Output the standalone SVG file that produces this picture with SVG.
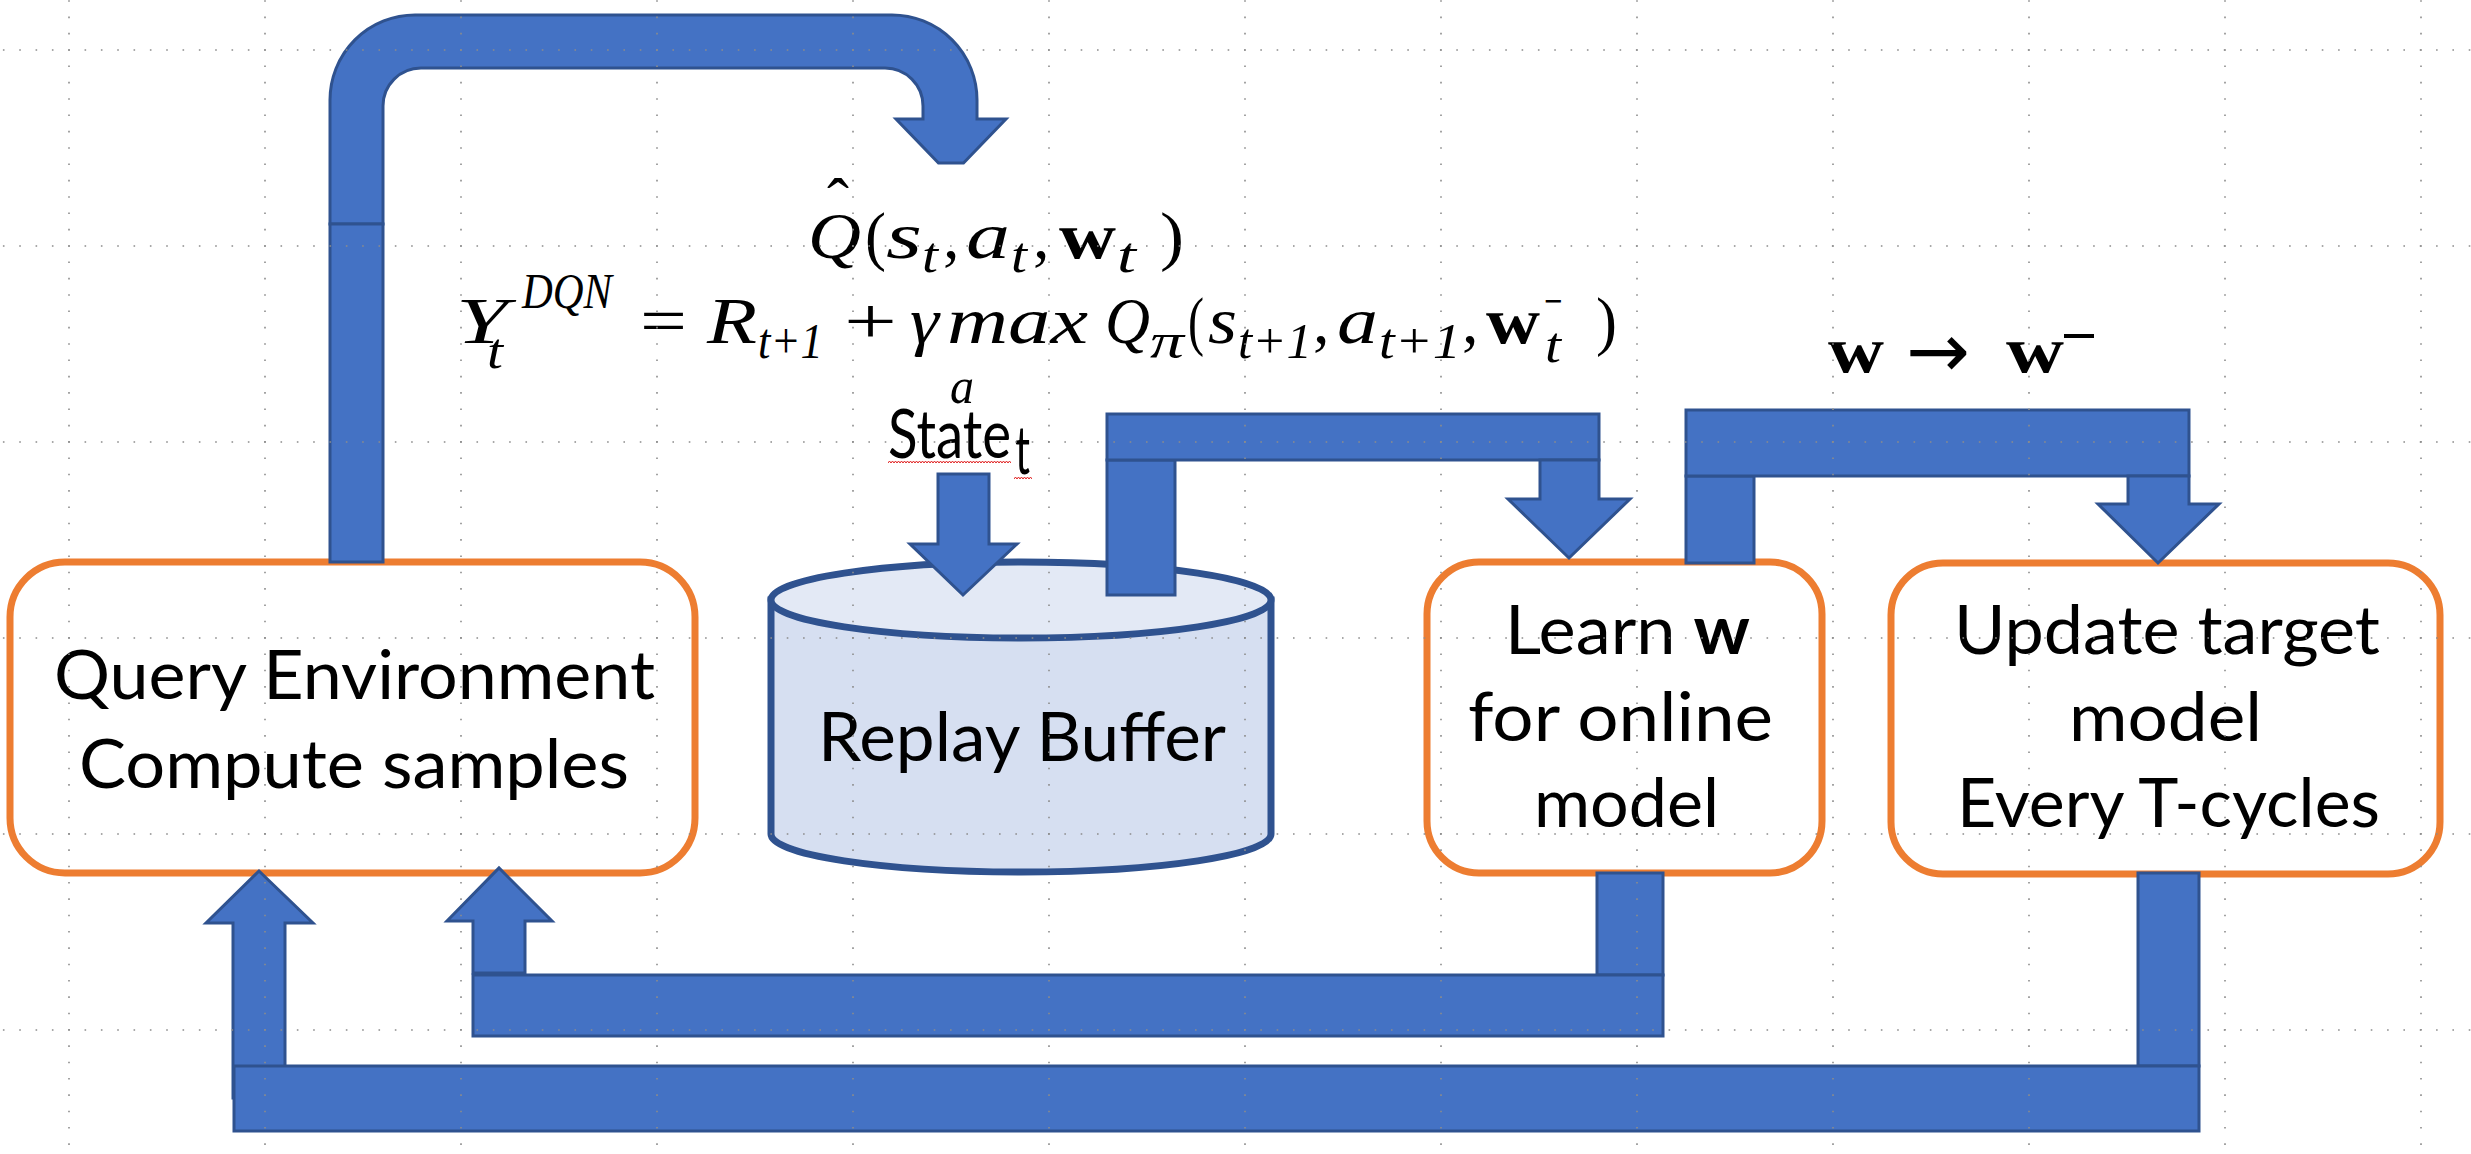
<svg xmlns="http://www.w3.org/2000/svg" width="2471" height="1154" viewBox="0 0 2471 1154">
<defs>
<style>
.blue{fill:#4472c4;stroke:#2f528f;stroke-width:3;stroke-linejoin:miter}
.box{fill:#ffffff;stroke:#ed7d31;stroke-width:7}
.cyl{stroke:#2f528f;stroke-width:7}
.lbl{font-family:Lato,"Open Sans",sans-serif;font-size:68px;fill:#000}
.m{font-family:"Liberation Serif","DejaVu Serif",serif;font-style:italic;font-size:66px;fill:#000}
.ms{font-family:"Liberation Serif","DejaVu Serif",serif;font-style:italic;font-size:50px;fill:#000}
.mu{font-family:"Liberation Serif","DejaVu Serif",serif;font-size:66px;fill:#000}
.mb{font-family:"Liberation Serif","DejaVu Serif",serif;font-weight:bold;font-size:66px;fill:#000}
.gv{fill:none;stroke:#8c8c8c;stroke-width:1.6;stroke-dasharray:1.6 14.73}
</style>
<pattern id="squig" width="6" height="4" patternUnits="userSpaceOnUse">
<polyline points="0,3 1.5,1 3,3 4.5,1 6,3" fill="none" stroke="#e02020" stroke-width="1"/>
</pattern>
</defs>
<rect x="0" y="0" width="2471" height="1154" fill="#ffffff"/>

<g id="node-query">
<rect class="box" x="10" y="562" width="685" height="311" rx="55" ry="55"/>
<text class="lbl" x="54" y="699" textLength="601" lengthAdjust="spacingAndGlyphs">Query Environment</text>
<text class="lbl" x="79" y="788" textLength="550" lengthAdjust="spacingAndGlyphs">Compute samples</text>
</g>

<g id="node-buffer">
<path class="cyl" fill="#d6dff1" d="M771,600 V834 A250,38 0 0 0 1271,834 V600 Z"/>
<ellipse class="cyl" fill="#e3e9f5" cx="1021" cy="600" rx="250" ry="38"/>
<text class="lbl" x="818" y="761" textLength="408" lengthAdjust="spacingAndGlyphs">Replay Buffer</text>
</g>

<g id="node-learn">
<rect class="box" x="1427" y="562" width="395" height="311" rx="52" ry="52"/>
<text class="lbl" x="1505" y="654" textLength="245" lengthAdjust="spacingAndGlyphs">Learn <tspan font-weight="bold">w</tspan></text>
<text class="lbl" x="1468" y="741" textLength="305" lengthAdjust="spacingAndGlyphs">for online</text>
<text class="lbl" x="1534" y="827" textLength="185" lengthAdjust="spacingAndGlyphs">model</text>
</g>

<g id="node-update">
<rect class="box" x="1891" y="563" width="549" height="311" rx="52" ry="52"/>
<text class="lbl" x="1954" y="654" textLength="426" lengthAdjust="spacingAndGlyphs">Update target</text>
<text class="lbl" x="2069" y="741" textLength="193" lengthAdjust="spacingAndGlyphs">model</text>
<text class="lbl" x="1957" y="827" textLength="423" lengthAdjust="spacingAndGlyphs">Every T-cycles</text>
</g>

<g id="connectors">
<!-- Query -> formula (curved arrow) -->
<path class="blue" d="M330,224 V100 A85,85 0 0 1 415,15 H892 A85,85 0 0 1 977,100 V119 H1006 L963.5,163 H938.5 L896,119 H923 V106 A38,38 0 0 0 885,68 H421 A38,38 0 0 0 383,106 V224 Z"/>
<rect class="blue" x="330" y="224" width="53" height="338"/>
<!-- State -> buffer -->
<path class="blue" d="M938,474 H989 V544 H1017 L963,595 L910,544 H938 Z"/>
<!-- Buffer -> Learn -->
<rect class="blue" x="1107" y="460" width="68" height="135"/>
<rect class="blue" x="1107" y="414" width="492" height="46"/>
<path class="blue" d="M1540,460 H1599 V499 H1630 L1569,558 L1508,499 H1540 Z"/>
<!-- Learn -> Update -->
<rect class="blue" x="1686" y="476" width="68" height="87"/>
<rect class="blue" x="1686" y="410" width="503" height="66"/>
<path class="blue" d="M2128,476 H2189 V504 H2219 L2158,563 L2098,504 H2128 Z"/>
<!-- Learn -> Query (bottom) -->
<rect class="blue" x="1597" y="873" width="66" height="102"/>
<rect class="blue" x="473" y="975" width="1190" height="61"/>
<path class="blue" d="M473,973 V921 H447 L499,868 L552,921 H525 V973 Z"/>
<!-- Update -> Query (bottom) -->
<rect class="blue" x="2138" y="873" width="61" height="193"/>
<path class="blue" d="M233,1098 V923 H206 L259,871 L313,923 H285 V1098 Z"/>
<rect class="blue" x="234" y="1066" width="1965" height="65"/>
</g>

<g id="formula-q">
<text class="mu" x="827" y="224" font-size="56">ˆ</text>
<text class="m" x="808" y="258" font-size="70" textLength="53" lengthAdjust="spacingAndGlyphs">Q</text>
<text class="mu" x="865" y="258" font-size="70" textLength="21" lengthAdjust="spacingAndGlyphs">(</text>
<text class="m" x="886" y="258" font-size="70" textLength="36" lengthAdjust="spacingAndGlyphs">s</text>
<text class="ms" x="922" y="272" font-size="44" textLength="16" lengthAdjust="spacingAndGlyphs">t</text>
<text class="mu" x="943" y="258" font-size="70">,</text>
<text class="m" x="966" y="258" font-size="70" textLength="44" lengthAdjust="spacingAndGlyphs">a</text>
<text class="ms" x="1011" y="272" font-size="44" textLength="16" lengthAdjust="spacingAndGlyphs">t</text>
<text class="mu" x="1033" y="258" font-size="70">,</text>
<text class="mb" x="1059" y="258" font-size="70" textLength="57" lengthAdjust="spacingAndGlyphs">w</text>
<text class="ms" x="1117" y="272" font-size="44" textLength="19" lengthAdjust="spacingAndGlyphs">t</text>
<text class="mu" x="1160" y="258" font-size="70" textLength="24" lengthAdjust="spacingAndGlyphs">)</text>
</g>

<g id="formula-y">
<text class="m" x="456" y="343" textLength="52" lengthAdjust="spacingAndGlyphs">Y</text>
<text class="ms" x="487" y="368" textLength="16" lengthAdjust="spacingAndGlyphs">t</text>
<text class="ms" x="522" y="308" font-size="58" textLength="90" lengthAdjust="spacingAndGlyphs">DQN</text>
<text class="mu" x="640" y="343" textLength="47" lengthAdjust="spacingAndGlyphs">=</text>
<text class="m" x="707" y="343" textLength="50" lengthAdjust="spacingAndGlyphs">R</text>
<text class="ms" x="758" y="358" textLength="65" lengthAdjust="spacingAndGlyphs">t+1</text>
<text class="mu" x="844" y="343" textLength="53" lengthAdjust="spacingAndGlyphs">+</text>
<text class="m" x="910" y="343" textLength="29" lengthAdjust="spacingAndGlyphs">γ</text>
<text class="m" x="947" y="343" textLength="141" lengthAdjust="spacingAndGlyphs">max</text>
<text class="ms" x="950" y="403" textLength="24" lengthAdjust="spacingAndGlyphs">a</text>
<text class="m" x="1105" y="343" textLength="45" lengthAdjust="spacingAndGlyphs">Q</text>
<text class="ms" x="1150" y="358" textLength="34" lengthAdjust="spacingAndGlyphs">π</text>
<text class="mu" x="1188" y="343" textLength="16" lengthAdjust="spacingAndGlyphs">(</text>
<text class="m" x="1208" y="343" textLength="29" lengthAdjust="spacingAndGlyphs">s</text>
<text class="ms" x="1238" y="358" textLength="74" lengthAdjust="spacingAndGlyphs">t+1</text>
<text class="mu" x="1313" y="343">,</text>
<text class="m" x="1337" y="343" textLength="41" lengthAdjust="spacingAndGlyphs">a</text>
<text class="ms" x="1379" y="358" textLength="82" lengthAdjust="spacingAndGlyphs">t+1</text>
<text class="mu" x="1462" y="343">,</text>
<text class="mb" x="1486" y="343" textLength="54" lengthAdjust="spacingAndGlyphs">w</text>
<text class="ms" x="1542" y="318" textLength="22" lengthAdjust="spacingAndGlyphs">−</text>
<text class="ms" x="1545" y="362" textLength="16" lengthAdjust="spacingAndGlyphs">t</text>
<text class="mu" x="1596" y="343" textLength="21" lengthAdjust="spacingAndGlyphs">)</text>
</g>

<g id="label-state">
<text class="lbl" x="888" y="458" font-size="62" textLength="123" lengthAdjust="spacingAndGlyphs">State</text>
<text class="lbl" x="1015" y="474" font-size="44" textLength="15" lengthAdjust="spacingAndGlyphs">t</text>
<rect x="888" y="461" width="123" height="4" fill="url(#squig)"/>
<rect x="1014" y="477" width="18" height="4" fill="url(#squig)"/>
</g>

<g id="label-w">
<text class="mb" x="1828" y="372" font-size="84" textLength="56" lengthAdjust="spacingAndGlyphs">w</text>
<text x="1906" y="377" font-family="'DejaVu Sans',sans-serif" font-size="76" textLength="64" lengthAdjust="spacingAndGlyphs">→</text>
<text class="mb" x="2006" y="372" font-size="84" textLength="58" lengthAdjust="spacingAndGlyphs">w</text>
<rect x="2064" y="334" width="30" height="4" fill="#000"/>
</g>

<g id="grid">
<path class="gv" d="M69,0.2 V1154 M265,0.2 V1154 M461,0.2 V1154 M657,0.2 V1154 M853,0.2 V1154 M1049,0.2 V1154 M1245,0.2 V1154 M1441,0.2 V1154 M1637,0.2 V1154 M1833,0.2 V1154 M2029,0.2 V1154 M2225,0.2 V1154 M2421,0.2 V1154"/>
<path class="gv" d="M2.9,50 H2471 M2.9,246 H2471 M2.9,442 H2471 M2.9,638 H2471 M2.9,834 H2471 M2.9,1030 H2471"/>
</g>
</svg>
